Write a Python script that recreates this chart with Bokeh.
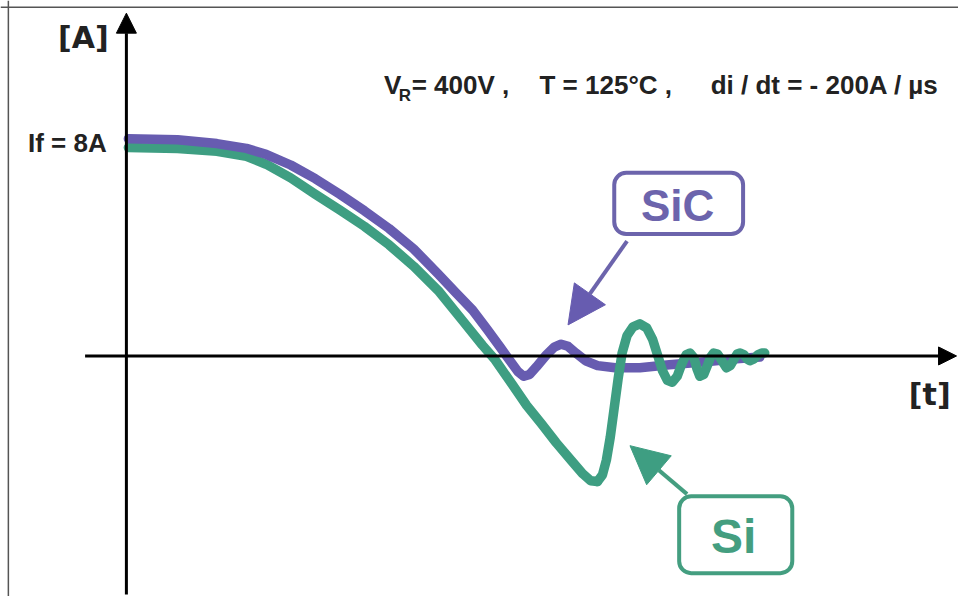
from bokeh.plotting import figure
from bokeh.models import Range1d, Label, Arrow, NormalHead, Span, BoxAnnotation
from bokeh.embed import file_html
from bokeh.resources import INLINE

# ---- data (time in arbitrary units, current in A) ----
sic_t = [0.2, 5.2, 9.2, 12.2, 14.2, 16.7, 19.2, 21.7, 24.2, 26.7, 29.2, 31.7, 33.5, 35.2,
         36.7, 38.0, 39.0, 39.8, 40.4, 41.0, 41.7, 42.7, 43.5, 44.2, 44.9, 45.7, 46.7,
         47.9, 49.7, 52.2, 55.2, 58.9, 61.7, 64.4]
sic_i = [8.11, 8.07, 7.93, 7.75, 7.53, 7.13, 6.62, 6.04, 5.42, 4.76, 4.00, 3.06, 2.36, 1.71,
         0.98, 0.33, -0.18, -0.58, -0.76, -0.69, -0.40, 0.04, 0.33, 0.44, 0.36, 0.11, -0.18,
         -0.36, -0.44, -0.44, -0.33, -0.22, -0.11, -0.04]

si_t_fall = [0.2, 5.2, 9.2, 12.2, 14.2, 16.7, 19.2, 21.7, 24.2, 26.7, 29.2, 31.7, 34.2, 36.2,
             37.5, 39.2, 40.7, 42.2, 43.7, 45.2, 46.4, 47.2, 47.9]
si_i_fall = [7.78, 7.75, 7.64, 7.45, 7.16, 6.65, 6.04, 5.45, 4.84, 4.15, 3.35, 2.44, 1.31, 0.40,
             -0.15, -1.05, -1.85, -2.53, -3.24, -3.89, -4.40, -4.66, -4.69]
si_t_ring = [47.9, 48.4, 48.8, 49.2, 49.6, 50.0, 50.4, 50.9, 51.5, 52.2, 52.9, 53.5, 54.0, 54.5,
             55.0, 55.5, 56.0, 56.4, 56.9, 57.3, 57.7, 58.0, 58.3, 58.7, 59.1, 59.4, 59.7,
             60.1, 60.5, 61.0, 61.4, 61.8, 62.1, 62.4, 62.8, 63.1, 63.4, 63.8, 64.2, 64.6, 64.9]
si_i_ring = [-4.69, -4.44, -3.89, -3.02, -1.93, -0.84, 0.11, 0.76, 1.09, 1.20, 1.05, 0.62, 0.04,
             -0.55, -0.91, -0.98, -0.76, -0.36, 0.04, 0.11, -0.07, -0.47, -0.76, -0.69, -0.33,
             -0.04, 0.11, 0.07, -0.15, -0.44, -0.36, -0.11, 0.07, 0.11, 0.04, -0.11, -0.18,
             -0.11, 0.04, 0.11, 0.11]

IF_LEVEL = 8
PURPLE = "#675CB0"
GREEN = "#3E9E82"
BOX_PURPLE = "#6C64AC"
BOX_GREEN = "#449E80"

X0, X1 = -12.8, 84.6
Y0, Y1 = -8.982, 13.273

p = figure(width=958, height=596, output_backend="svg", toolbar_location=None,
           x_range=Range1d(X0, X1), y_range=Range1d(Y0, Y1), min_border=0)
p.xaxis.visible = False
p.yaxis.visible = False
p.grid.visible = False
p.outline_line_color = None
p.background_fill_color = "white"
p.border_fill_color = "white"

# image border (left & top)
p.add_layout(Span(location=-12.0, dimension="height", line_color="#555555", line_width=1.5))
p.add_layout(Span(location=13.02, dimension="width", line_color="#555555", line_width=1.5))

# axes with arrows
p.add_layout(Arrow(end=NormalHead(size=20, fill_color="black", line_color="black"),
                   x_start=0, y_start=-8.91, x_end=0, y_end=12.8,
                   line_color="black", line_width=3))
p.add_layout(Arrow(end=NormalHead(size=18, fill_color="black", line_color="black"),
                   x_start=-4.2, y_start=0, x_end=84.4, y_end=0,
                   line_color="black", line_width=3))

# curves
p.line(si_t_fall, si_i_fall, line_color=GREEN, line_width=9.5, line_cap="round", line_join="round")
p.line(sic_t, sic_i, line_color=PURPLE, line_width=9.5, line_cap="round", line_join="round")
p.line(si_t_ring, si_i_ring, line_color=GREEN, line_width=9.5, line_cap="round", line_join="round")

# axis labels
p.add_layout(Label(x=-1.8, y=11.89, text="[A]", text_align="right", text_baseline="middle",
                   text_font="DejaVu Sans", text_font_style="bold", text_font_size="30px",
                   text_color="#222222"))
p.add_layout(Label(x=83.8, y=-1.45, text="[t]", text_align="right", text_baseline="middle",
                   text_font="DejaVu Sans", text_font_style="bold", text_font_size="30px",
                   text_color="#222222"))
p.add_layout(Label(x=-2.0, y=IF_LEVEL - 0.04, text="If = 8A", text_align="right",
                   text_baseline="middle", text_font="Liberation Sans", text_font_style="bold",
                   text_font_size="26px", text_color="#222222"))

# conditions header
hdr = dict(text_font="Liberation Sans", text_font_style="bold", text_color="#222222",
           text_baseline="middle", text_align="left")
p.add_layout(Label(x=26.2, y=10.11, text="V", text_font_size="26px", **hdr))
p.add_layout(Label(x=27.7, y=9.72, text="R", text_font_size="17px", **hdr))
p.add_layout(Label(x=29.0, y=10.11, text="= 400V ,", text_font_size="26px", **hdr))
p.add_layout(Label(x=42.0, y=10.11, text="T = 125°C ,", text_font_size="26px", **hdr))
p.add_layout(Label(x=59.4, y=10.11, text="di / dt = - 200A / µs", text_font_size="26px", **hdr))

# callout boxes
p.add_layout(BoxAnnotation(left=49.6, right=62.7, top=6.84, bottom=4.55,
                           fill_color=None, fill_alpha=0, line_color=BOX_PURPLE,
                           line_alpha=1.0, line_width=4, border_radius=12))
p.add_layout(Label(x=56.05, y=5.6, text="SiC", text_align="center", text_baseline="middle",
                   text_font="Liberation Sans", text_font_style="bold", text_font_size="44px",
                   text_color=BOX_PURPLE))
p.add_layout(BoxAnnotation(left=56.2, right=67.7, top=-5.24, bottom=-8.11,
                           fill_color=None, fill_alpha=0, line_color=BOX_GREEN,
                           line_alpha=1.0, line_width=4, border_radius=12))
p.add_layout(Label(x=61.75, y=-6.75, text="Si", text_align="center", text_baseline="middle",
                   text_font="Liberation Sans", text_font_style="bold", text_font_size="48px",
                   text_color=BOX_GREEN))

# callout arrows
p.add_layout(Arrow(end=NormalHead(size=38, fill_color=PURPLE, line_color=PURPLE),
                   x_start=50.9, y_start=4.29, x_end=44.9, y_end=1.16,
                   line_color=BOX_PURPLE, line_width=4))
p.add_layout(Arrow(end=NormalHead(size=38, fill_color=GREEN, line_color=GREEN),
                   x_start=57.0, y_start=-5.16, x_end=51.2, y_end=-3.35,
                   line_color=BOX_GREEN, line_width=4))

open("out.html", "w").write(file_html(p, INLINE))
